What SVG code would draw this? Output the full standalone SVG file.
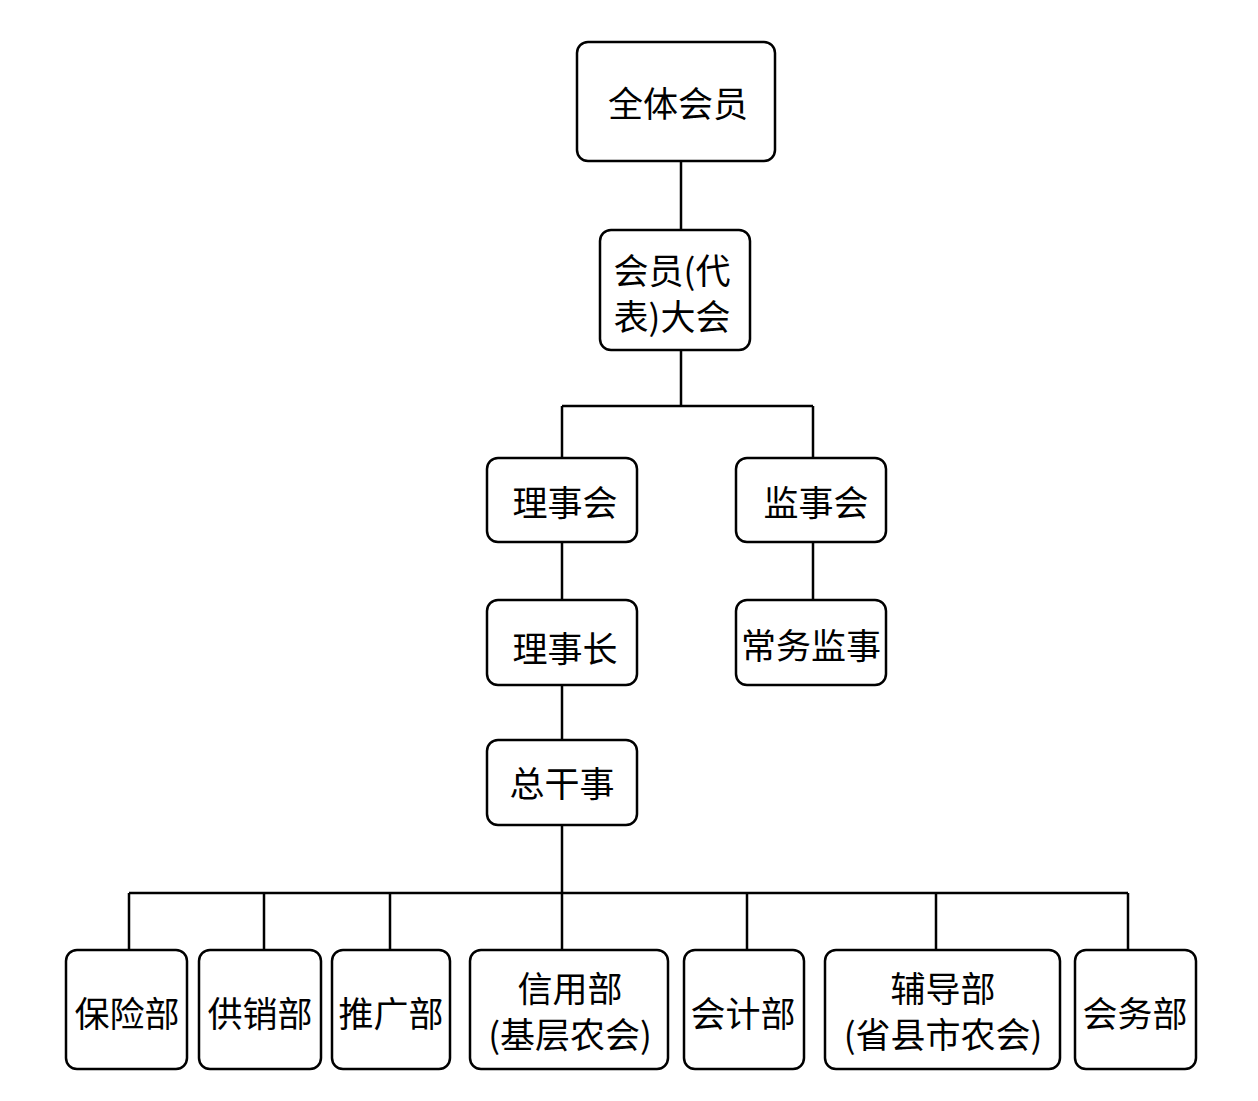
<svg xmlns="http://www.w3.org/2000/svg" width="1258" height="1101" viewBox="0 0 1258 1101">
<style>
.box{fill:#fff;stroke:#000;stroke-width:2.5}
.t{font-family:"Noto Sans CJK SC","Liberation Sans",sans-serif;font-size:35px;fill:#000;text-anchor:middle;dominant-baseline:central}
.c{fill:none;stroke:#000;stroke-width:2.5}
</style>
<rect width="1258" height="1101" fill="#fff"/>
<g id="connectors">
<path class="c" d="M681 161V230"/>
<path class="c" d="M681 350V406M562 406H813M562 406V458M813 406V458"/>
<path class="c" d="M562 542V600M813 542V600M562 685V740"/>
<path class="c" d="M562 825V950M129 893H1128M129 893V950M264 893V950M390 893V950M747 893V950M936 893V950M1128 893V950"/>
</g>
<g id="n1"><rect class="box" x="577" y="42" width="198" height="119" rx="11"/><text class="t" x="678" y="101">全体会员</text></g>
<g id="n2"><rect class="box" x="600" y="230" width="150" height="120" rx="11"/><text class="t" x="672" y="268">会员(代</text><text class="t" x="672" y="314">表)大会</text></g>
<g id="n3"><rect class="box" x="487" y="458" width="150" height="84" rx="11"/><text class="t" x="565" y="500">理事会</text></g>
<g id="n4"><rect class="box" x="736" y="458" width="150" height="84" rx="11"/><text class="t" x="816" y="500">监事会</text></g>
<g id="n5"><rect class="box" x="487" y="600" width="150" height="85" rx="11"/><text class="t" x="565" y="646">理事长</text></g>
<g id="n6"><rect class="box" x="736" y="600" width="150" height="85" rx="11"/><text class="t" x="811" y="643">常务监事</text></g>
<g id="n7"><rect class="box" x="487" y="740" width="150" height="85" rx="11"/><text class="t" x="562" y="781">总干事</text></g>
<g id="n8"><rect class="box" x="66" y="950" width="121" height="119" rx="11"/><text class="t" x="127" y="1011">保险部</text></g>
<g id="n9"><rect class="box" x="199" y="950" width="122" height="119" rx="11"/><text class="t" x="260" y="1011">供销部</text></g>
<g id="n10"><rect class="box" x="332" y="950" width="118" height="119" rx="11"/><text class="t" x="391" y="1011">推广部</text></g>
<g id="n11"><rect class="box" x="470" y="950" width="198" height="119" rx="11"/><text class="t" x="570" y="986">信用部</text><text class="t" x="570" y="1032">(基层农会)</text></g>
<g id="n12"><rect class="box" x="684" y="950" width="120" height="119" rx="11"/><text class="t" x="743" y="1011">会计部</text></g>
<g id="n13"><rect class="box" x="825" y="950" width="235" height="119" rx="11"/><text class="t" x="943" y="986">辅导部</text><text class="t" x="943" y="1032">(省县市农会)</text></g>
<g id="n14"><rect class="box" x="1075" y="950" width="121" height="119" rx="11"/><text class="t" x="1135" y="1011">会务部</text></g>
</svg>
